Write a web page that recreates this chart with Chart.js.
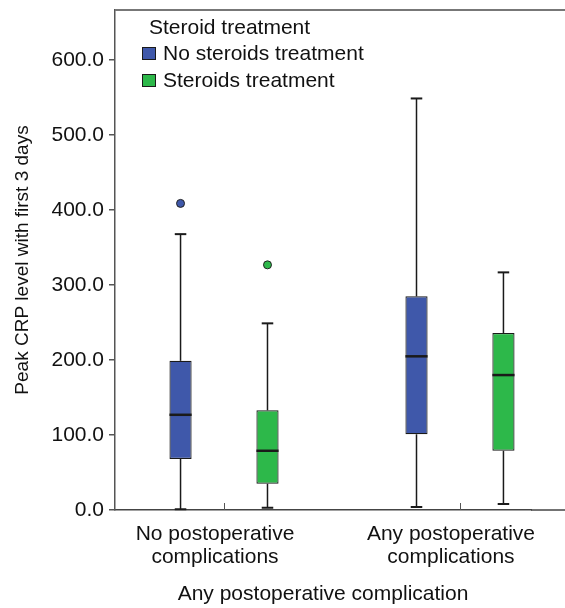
<!DOCTYPE html>
<html lang="en">
<head>
<meta charset="UTF-8">
<title>Peak CRP level with first 3 days</title>
<script src="https://cdn.jsdelivr.net/npm/chart.js@4.4.1/dist/chart.umd.min.js"></script>
<style>
  html, body { margin: 0; padding: 0; background: #fff; }
  canvas { display: block; }
</style>
</head>
<body>
<canvas id="crpChart" width="565" height="608"></canvas>
<script>
const categories = [['No postoperative', 'complications'], ['Any postoperative', 'complications']]
const groups = ['No steroids treatment', 'Steroids treatment']
const colors = ['#3f58aa', '#2db84a']
// [min, q1, median, q3, max] for each category
const noSteroids = [[1, 68, 127, 199, 368], [4, 101, 205, 285, 549]]
const steroids = [[3, 35, 79, 133, 249], [8, 79, 180, 236, 317]]
const noSteroidsOutliers = [[409], []]
const steroidsOutliers = [[327], []]
const yTicks = [0, 100, 200, 300, 400, 500, 600]

const stats = [noSteroids, steroids]
const outliers = [noSteroidsOutliers, steroidsOutliers]
const ink = '#1a1a1a'
Chart.defaults.font.family = "'Liberation Sans', Arial, sans-serif"
Chart.defaults.color = '#111'

const line = (ctx, x1, y1, x2, y2) => {
    ctx.beginPath()
    ctx.moveTo(x1, y1)
    ctx.lineTo(x2, y2)
    ctx.stroke()
}

// whiskers, medians and outliers on top of the floating bars
const boxWhiskers = {
    id: 'boxWhiskers',
    afterDatasetsDraw(chart) {
        const ctx = chart.ctx
        const y = chart.scales.y
        chart.data.datasets.forEach((ds, i) => {
            chart.getDatasetMeta(i).data.forEach((bar, j) => {
                const s = ds.stats[j]
                const cx = bar.x
                const half = bar.width / 2
                const cap = bar.width * 0.26
                ctx.save()
                ctx.strokeStyle = ink
                ctx.lineWidth = 1.5
                line(ctx, cx, y.getPixelForValue(s[3]), cx, y.getPixelForValue(s[4]))
                line(ctx, cx, y.getPixelForValue(s[1]), cx, y.getPixelForValue(s[0]))
                ctx.lineWidth = 2
                line(ctx, cx - cap, y.getPixelForValue(s[4]), cx + cap, y.getPixelForValue(s[4]))
                line(ctx, cx - cap, y.getPixelForValue(s[0]), cx + cap, y.getPixelForValue(s[0]))
                ctx.lineWidth = 2.5
                line(ctx, cx - half, y.getPixelForValue(s[2]), cx + half, y.getPixelForValue(s[2]))
                ds.outliers[j].forEach(v => {
                    ctx.beginPath()
                    ctx.arc(cx, y.getPixelForValue(v), 4, 0, Math.PI * 2)
                    ctx.fillStyle = ds.backgroundColor
                    ctx.fill()
                    ctx.lineWidth = 1
                    ctx.strokeStyle = '#222'
                    ctx.stroke()
                })
                ctx.restore()
            })
        })
    }
}

// top frame line, axis extension and the small inner ticks on the x axis
const frame = {
    id: 'frame',
    afterDraw(chart) {
        const ctx = chart.ctx
        const a = chart.chartArea
        const x = chart.scales.x
        ctx.save()
        ctx.strokeStyle = '#777'
        ctx.lineWidth = 2
        line(ctx, a.left, a.top, chart.width, a.top)
        ctx.strokeStyle = '#444'
        ctx.lineWidth = 1.5
        line(ctx, a.right, a.bottom, chart.width, a.bottom)
        ctx.lineWidth = 1
        ctx.strokeStyle = '#555'
        x.ticks.forEach(t => {
            const px = Math.round(x.getPixelForValue(t.value)) + 0.5
            line(ctx, px, a.bottom - 7, px, a.bottom)
        })
        ctx.restore()
    }
}

const boxLegend = {
    id: 'boxLegend',
    afterDraw(chart) {
        const ctx = chart.ctx
        const a = chart.chartArea
        ctx.save()
        ctx.font = "21px 'Liberation Sans', Arial, sans-serif"
        ctx.fillStyle = '#111'
        ctx.textBaseline = 'middle'
        ctx.fillText('Steroid treatment', a.left + 34, a.top + 18)
        chart.data.datasets.forEach((ds, i) => {
            const cy = a.top + 44 + i * 27
            ctx.fillStyle = ds.backgroundColor
            ctx.fillRect(a.left + 27, cy - 7, 14, 13)
            ctx.strokeStyle = ink
            ctx.lineWidth = 1
            ctx.strokeRect(a.left + 27.5, cy - 6.5, 13, 12)
            ctx.fillStyle = '#111'
            ctx.fillText(ds.label, a.left + 48, cy)
        })
        ctx.restore()
    }
}

new Chart(document.getElementById('crpChart'), {
    type: 'bar',
    data: {
        datasets: groups.map((g, i) => ({
            label: g,
            data: stats[i].map((s, j) => ({x: j + 1, y: [s[1], s[3]]})),
            stats: stats[i],
            outliers: outliers[i],
            backgroundColor: colors[i],
            borderColor: ink,
            borderWidth: 1.2,
            borderSkipped: false,
            categoryPercentage: 0.737,
            barPercentage: 0.255
        }))
    },
    options: {
        responsive: false,
        animation: false,
        layout: {padding: {top: 10, right: 34, left: 0, bottom: 0}},
        plugins: {legend: {display: false}, tooltip: {enabled: false}},
        scales: {
            x: {
                type: 'linear',
                min: 0.538,
                max: 2.301,
                offset: false,
                afterBuildTicks: s => { s.ticks = categories.map((c, i) => ({value: i + 1})) },
                afterFit: s => {
                    s.height = 98
                    s.paddingLeft = 0
                    s.paddingRight = 0
                },
                ticks: {
                    callback: v => categories[Math.round(v) - 1],
                    padding: 13,
                    labelOffset: -9,
                    maxRotation: 0,
                    autoSkip: false,
                    font: {size: 21, lineHeight: 1.1}
                },
                grid: {display: true, drawOnChartArea: false, drawTicks: false},
                border: {display: true, color: '#444', width: 1.5},
                title: {
                    display: true,
                    text: 'Any postoperative complication',
                    font: {size: 21},
                    padding: {top: 0, bottom: 1}
                }
            },
            y: {
                min: 0,
                max: 667,
                afterBuildTicks: s => { s.ticks = yTicks.map(v => ({value: v})) },
                afterFit: s => {
                    s.width = 115
                    s.paddingTop = 0
                    s.paddingBottom = 0
                },
                ticks: {
                    padding: 5,
                    font: {size: 21},
                    callback: v => v.toFixed(1)
                },
                grid: {drawOnChartArea: false, drawTicks: true, tickLength: 6, color: '#555', lineWidth: 1.5},
                border: {color: '#555', width: 1.5},
                title: {
                    display: true,
                    text: 'Peak CRP level with first 3 days',
                    font: {size: 19},
                    padding: {top: 11, bottom: 0}
                }
            }
        }
    },
    plugins: [boxWhiskers, frame, boxLegend]
})
</script>
</body>
</html>
